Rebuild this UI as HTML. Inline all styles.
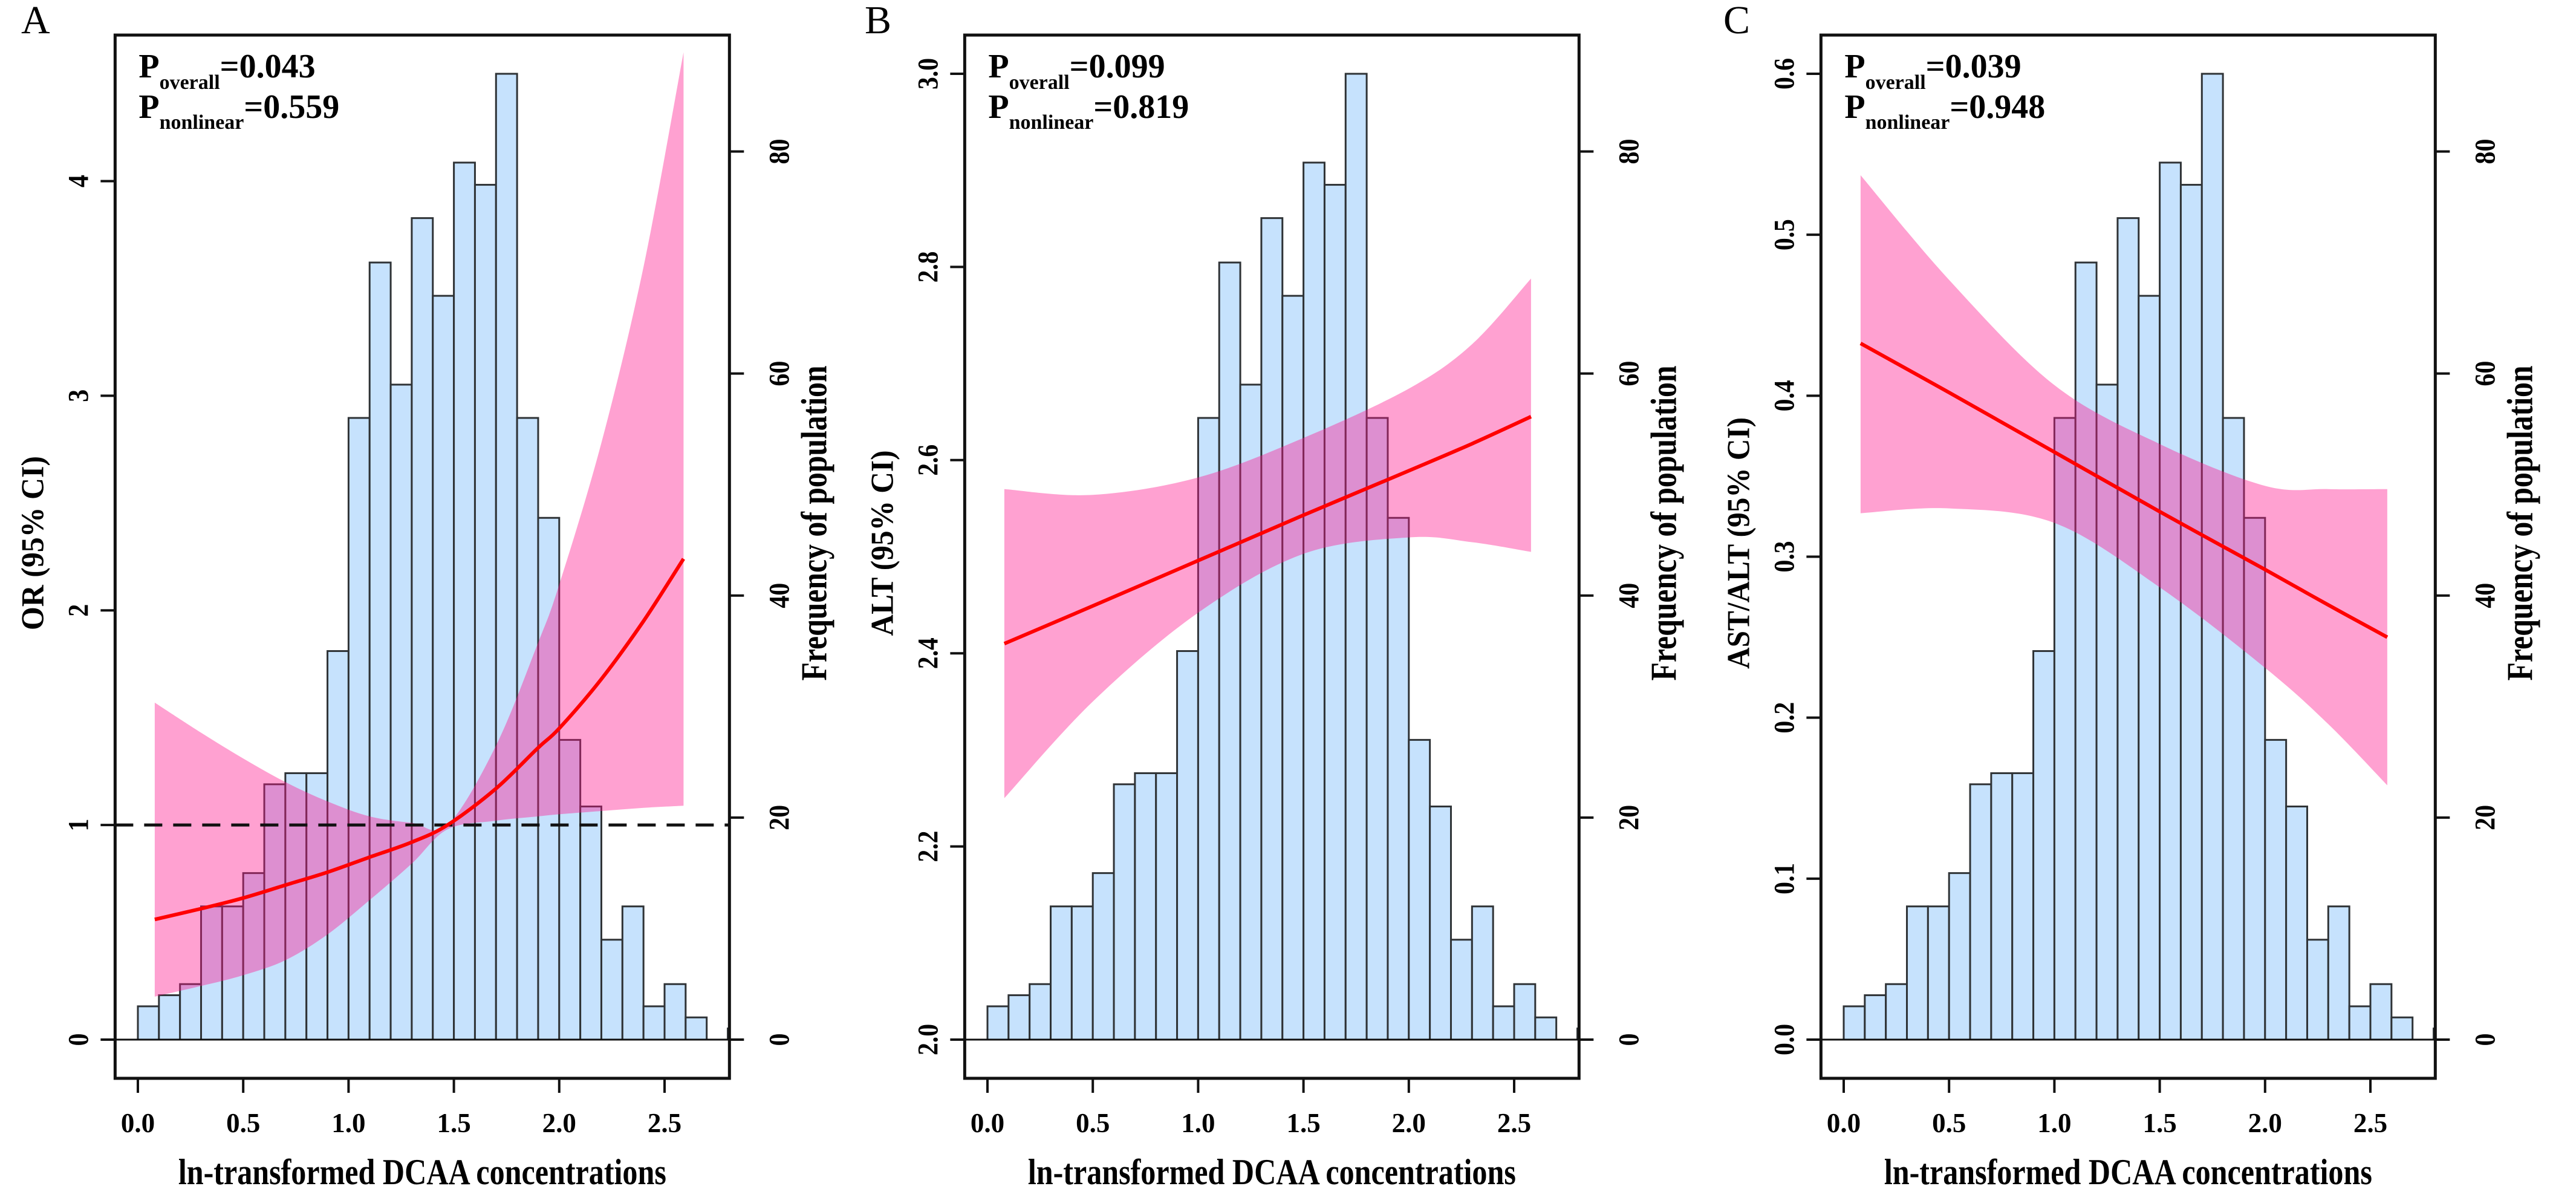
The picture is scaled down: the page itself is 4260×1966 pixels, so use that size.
<!DOCTYPE html>
<html><head><meta charset="utf-8"><style>
html,body{margin:0;padding:0;background:#fff;}
svg{display:block;font-family:"Liberation Serif","DejaVu Serif",serif;}
</style></head><body>
<svg id="fig" width="4260" height="1966" viewBox="0 0 4260 1966" xmlns="http://www.w3.org/2000/svg"></svg>
<script>
// ---------- data ----------
const binStarts = [0.0,0.1,0.2,0.3,0.4,0.5,0.6,0.7,0.8,0.9,1.0,1.1,1.2,1.3,1.4,1.5,1.6,1.7,1.8,1.9,2.0,2.1,2.2,2.3,2.4,2.5,2.6,2.7,2.8];
const binCounts = [3,4,5,12,12,15,23,24,24,35,56,70,59,74,67,79,77,87,56,47,27,21,9,12,3,5,2,0,1];
const freqTicks = [0,20,40,60,80];
const xTicks = [0.0,0.5,1.0,1.5,2.0,2.5];
const xTickLabels = ["0.0","0.5","1.0","1.5","2.0","2.5"];

const aX = [0.08,0.3,0.5,0.7,0.9,1.1,1.3,1.47,1.7,1.9,2.0,2.2,2.4,2.59];
const aFit = [0.56,0.61,0.66,0.72,0.78,0.85,0.92,1.0,1.17,1.36,1.45,1.68,1.95,2.24];
const aUpper = [1.57,1.43,1.31,1.2,1.11,1.04,1.01,1.0,1.37,1.85,2.12,2.78,3.6,4.6];
const aLower = [0.2,0.25,0.3,0.37,0.49,0.65,0.82,0.98,1.02,1.04,1.05,1.065,1.08,1.09];
const aYTicks = [0,1,2,3,4];
const aYLabels = ["0","1","2","3","4"];

const bX = [0.08,0.5,1.0,1.5,2.0,2.3,2.58];
const bFit = [2.41,2.449,2.496,2.543,2.589,2.617,2.645];
const bUpper = [2.57,2.564,2.582,2.623,2.674,2.72,2.788];
const bLower = [2.25,2.35,2.442,2.503,2.52,2.515,2.505];
const bYTicks = [2.0,2.2,2.4,2.6,2.8,3.0];
const bYLabels = ["2.0","2.2","2.4","2.6","2.8","3.0"];

const cX = [0.08,0.5,1.0,1.5,2.0,2.3,2.58];
const cFit = [0.4325,0.402,0.365,0.328,0.292,0.27,0.25];
const cUpper = [0.537,0.472,0.4066,0.37,0.344,0.342,0.342];
const cLower = [0.327,0.33,0.321,0.281,0.231,0.196,0.158];
const cYTicks = [0.0,0.1,0.2,0.3,0.4,0.5,0.6];
const cYLabels = ["0.0","0.1","0.2","0.3","0.4","0.5","0.6"];

// ---------- helpers ----------
const NS = "http://www.w3.org/2000/svg";
const svg = document.getElementById('fig');
function mk(tag, attrs, parent, name, inter) {
  const el = document.createElementNS(NS, tag);
  for (const k in attrs) el.setAttribute(k, attrs[k]);
  
  
  (parent || svg).appendChild(el);
  return el;
}
function spline(pts, start) {
  let d = (start ? 'M' : 'L') + pts[0][0].toFixed(1) + ',' + pts[0][1].toFixed(1);
  for (let i = 0; i < pts.length - 1; i++) {
    const p0 = pts[Math.max(0, i - 1)], p1 = pts[i], p2 = pts[i + 1], p3 = pts[Math.min(pts.length - 1, i + 2)];
    const c1 = [p1[0] + (p2[0] - p0[0]) / 6, p1[1] + (p2[1] - p0[1]) / 6];
    const c2 = [p2[0] - (p3[0] - p1[0]) / 6, p2[1] - (p3[1] - p1[1]) / 6];
    d += 'C' + c1[0].toFixed(1) + ',' + c1[1].toFixed(1) + ' ' + c2[0].toFixed(1) + ',' + c2[1].toFixed(1) + ' ' + p2[0].toFixed(1) + ',' + p2[1].toFixed(1);
  }
  return d;
}

const U = 348.4, Y0 = 1719, YTOP = 122, BOXT = 58, BOXB = 1783;
const panels = [
  {id:'a', letter:'A', ox:0, x0:228, ylim:[0,4.5], xs:aX, fit:aFit, up:aUpper, lo:aLower, yt:aYTicks, yl:aYLabels,
   ytitle:'OR (95% CI)', ytLen:288, p1:'0.043', p2:'0.559', ref:1},
  {id:'b', letter:'B', ox:1420, x0:213, ylim:[2.0,3.0], xs:bX, fit:bFit, up:bUpper, lo:bLower, yt:bYTicks, yl:bYLabels,
   ytitle:'ALT (95% CI)', ytLen:307, p1:'0.099', p2:'0.819', ref:null},
  {id:'c', letter:'C', ox:2840, x0:209, ylim:[0,0.6], xs:cX, fit:cFit, up:cUpper, lo:cLower, yt:cYTicks, yl:cYLabels,
   ytitle:'AST/ALT (95% CI)', ytLen:416, p1:'0.039', p2:'0.948', ref:null}
];

panels.forEach(p => {
  const g = mk('g', {}, svg, 'panel-' + p.id, false);
  const X = v => p.ox + p.x0 + v * U;
  const Y = v => Y0 - (v - p.ylim[0]) / (p.ylim[1] - p.ylim[0]) * (Y0 - YTOP);
  const F = c => Y0 - c / 87 * (Y0 - YTOP);
  const bl = X(-0.108), br = X(2.808);
  const clipId = 'clip-' + p.id;
  const defs = mk('defs', {}, g, 'clip-defs', false);
  const cp = mk('clipPath', {id: clipId}, defs, 'plot-clip', false);
  mk('rect', {x: bl, y: BOXT, width: br - bl, height: BOXB - BOXT}, cp, 'plot-clip-rect', false);
  const plot = mk('g', {'clip-path': 'url(#' + clipId + ')'}, g, 'plot-area', false);

  binStarts.forEach((s, i) => {
    if (binCounts[i] <= 0) return;
    mk('rect', {x: X(s), y: F(binCounts[i]), width: X(s + 0.1) - X(s), height: Y0 - F(binCounts[i]),
      fill: '#c6e2fd', stroke: '#2f3336', 'stroke-width': 3}, plot, 'histogram-bar', false);
  });
  mk('line', {x1: bl, x2: br, y1: Y0, y2: Y0, stroke: '#111', 'stroke-width': 3}, g, 'frequency-baseline', false);

  const upPts = p.xs.map((v, i) => [X(v), Y(p.up[i])]);
  const loPts = p.xs.map((v, i) => [X(v), Y(p.lo[i])]).reverse();
  const d = spline(upPts, true) + spline(loPts, false) + 'Z';
  mk('path', {d: d, fill: 'rgba(255,20,140,0.4)', stroke: 'none'}, plot, 'confidence-band', false);

  if (p.ref !== null) {
    mk('line', {x1: bl, x2: br, y1: Y(p.ref), y2: Y(p.ref), stroke: '#111', 'stroke-width': 5,
      'stroke-dasharray': '30,18'}, plot, 'reference-line', false);
  }

  const pts = p.xs.map((v, i) => [X(v), Y(p.fit[i])]);
  mk('path', {d: spline(pts, true), fill: 'none', stroke: '#ff0000', 'stroke-width': 6}, plot, 'fit-line', false);

  mk('rect', {x: bl, y: BOXT, width: br - bl, height: BOXB - BOXT, fill: 'none', stroke: '#111', 'stroke-width': 5}, g, 'plot-frame', false);

  p.yt.forEach((v, i) => {
    mk('line', {x1: bl - 24, x2: bl, y1: Y(v), y2: Y(v), stroke: '#111', 'stroke-width': 4}, g, 'y-tick', false);
    const len = p.yl[i].replace('.', '').length * 21 + (p.yl[i].includes('.') ? 10 : 0);
    const t = mk('text', {x: 0, y: 0, transform: 'translate(' + (bl - 45) + ',' + Y(v) + ') rotate(-90)',
      'text-anchor': 'middle', 'font-size': 48, 'font-weight': 'bold', textLength: len, lengthAdjust: 'spacingAndGlyphs'}, g, 'y-tick-label', false);
    t.textContent = p.yl[i];
  });
  freqTicks.forEach(v => {
    mk('line', {x1: br, x2: br + 24, y1: F(v), y2: F(v), stroke: '#111', 'stroke-width': 4}, g, 'freq-tick', false);
    const s = String(v);
    const t = mk('text', {x: 0, y: 0, transform: 'translate(' + (br + 98) + ',' + F(v) + ') rotate(-90)',
      'text-anchor': 'middle', 'font-size': 48, 'font-weight': 'bold', textLength: s.length * 21, lengthAdjust: 'spacingAndGlyphs'}, g, 'freq-tick-label', false);
    t.textContent = s;
  });
  xTicks.forEach((v, i) => {
    mk('line', {x1: X(v), x2: X(v), y1: BOXB, y2: BOXB + 24, stroke: '#111', 'stroke-width': 4}, g, 'x-tick', false);
    const t = mk('text', {x: X(v), y: 1872, 'text-anchor': 'middle', 'font-size': 45, 'font-weight': 'bold'}, g, 'x-tick-label', false);
    t.textContent = xTickLabels[i];
  });
  const xt = mk('text', {x: (bl + br) / 2, y: 1958, 'text-anchor': 'middle', 'font-size': 60, 'font-weight': 'bold',
    textLength: 807, lengthAdjust: 'spacingAndGlyphs'}, g, 'x-axis-title', false);
  xt.textContent = 'ln-transformed DCAA concentrations';
  const yt = mk('text', {x: 0, y: 0, transform: 'translate(' + (bl - 119) + ',898) rotate(-90)', 'text-anchor': 'middle',
    'font-size': 53, 'font-weight': 'bold', textLength: p.ytLen, lengthAdjust: 'spacingAndGlyphs'}, g, 'y-axis-title', false);
  yt.textContent = p.ytitle;
  const rt = mk('text', {x: 0, y: 0, transform: 'translate(' + (br + 160) + ',865) rotate(-90)', 'text-anchor': 'middle',
    'font-size': 60, 'font-weight': 'bold', textLength: 521, lengthAdjust: 'spacingAndGlyphs'}, g, 'frequency-axis-title', false);
  rt.textContent = 'Frequency of population';

  const L = mk('text', {x: p.ox + (p.id === 'a' ? 35 : 10), y: 55, 'font-size': 66}, g, 'panel-label', false);
  L.textContent = p.letter;

  const t1 = mk('text', {x: bl + 39, y: 128, 'font-weight': 'bold', 'font-size': 56}, g, 'p-overall', false);
  const s1a = mk('tspan', {}, t1, 'p-symbol', false); s1a.textContent = 'P';
  const s1b = mk('tspan', {dy: 19, 'font-size': 34}, t1, 'p-subscript', false); s1b.textContent = 'overall';
  const s1c = mk('tspan', {dy: -19}, t1, 'p-value', false); s1c.textContent = '=' + p.p1;
  const t2 = mk('text', {x: bl + 39, y: 195, 'font-weight': 'bold', 'font-size': 56}, g, 'p-nonlinear', false);
  const s2a = mk('tspan', {}, t2, 'p-symbol', false); s2a.textContent = 'P';
  const s2b = mk('tspan', {dy: 18, 'font-size': 34}, t2, 'p-subscript', false); s2b.textContent = 'nonlinear';
  const s2c = mk('tspan', {dy: -18}, t2, 'p-value', false); s2c.textContent = '=' + p.p2;
});
</script>
</body></html>
